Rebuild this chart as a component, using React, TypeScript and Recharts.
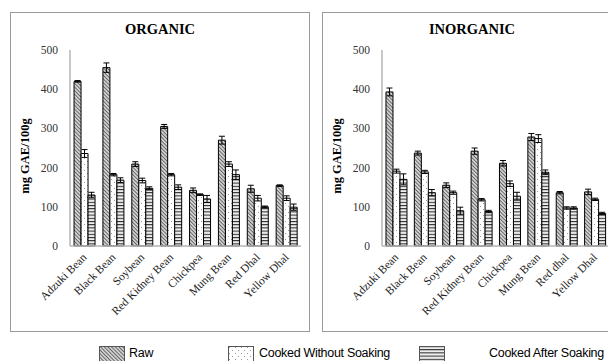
import React from "react"
import { BarChart, Bar, XAxis, YAxis, ErrorBar } from "recharts"

const organicCategories = ["Adzuki Bean", "Black Bean", "Soybean", "Red Kidney Bean", "Chickpea", "Mung Bean", "Red Dhal", "Yellow Dhal"]
const inorganicCategories = ["Adzuki Bean", "Black Bean", "Soybean", "Red Kidney Bean", "Chickpea", "Mung Bean", "Red dhal", "Yellow Dhal"]
const yTicks = [0, 100, 200, 300, 400, 500]

const organicRaw = [420, 455, 209, 305, 142, 270, 146, 154]
const organicRawErr = [2, 12, 6, 5, 6, 10, 9, 2]
const organicCooked = [236, 182, 167, 182, 131, 209, 122, 122]
const organicCookedErr = [10, 3, 6, 3, 2, 6, 7, 6]
const organicSoaked = [130, 168, 147, 150, 120, 182, 100, 99]
const organicSoakedErr = [7, 6, 4, 6, 9, 12, 2, 8]

const inorganicRaw = [393, 237, 155, 242, 211, 278, 136, 138]
const inorganicRawErr = [10, 5, 6, 8, 7, 9, 3, 7]
const inorganicCooked = [191, 189, 136, 118, 159, 274, 97, 119]
const inorganicCookedErr = [5, 4, 4, 3, 7, 10, 3, 3]
const inorganicSoaked = [170, 136, 90, 88, 127, 188, 97, 83]
const inorganicSoakedErr = [14, 8, 9, 3, 10, 6, 3, 3]

const seriesNames = ["Raw", "Cooked Without Soaking", "Cooked After Soaking"]

const serif = "'Liberation Serif', 'Times New Roman', serif"

function buildRows(cats: string[], raw: number[], rawErr: number[], cooked: number[], cookedErr: number[], soaked: number[], soakedErr: number[]) {
  return cats.map((name, i) => ({
    name,
    raw: raw[i],
    rawErr: rawErr[i],
    cooked: cooked[i],
    cookedErr: cookedErr[i],
    soaked: soaked[i],
    soakedErr: soakedErr[i]
  }))
}

const organicRows = buildRows(organicCategories, organicRaw, organicRawErr, organicCooked, organicCookedErr, organicSoaked, organicSoakedErr)
const inorganicRows = buildRows(inorganicCategories, inorganicRaw, inorganicRawErr, inorganicCooked, inorganicCookedErr, inorganicSoaked, inorganicSoakedErr)

function Patterns() {
  return (
    <svg width={0} height={0} style={{ position: "absolute" }}>
      <defs>
        <pattern id="pRaw" width={2.6} height={2.6} patternUnits="userSpaceOnUse" patternTransform="rotate(-45)">
          <rect width={2.6} height={2.6} fill="#d0d0d0" />
          <line x1={0} y1={0} x2={0} y2={2.6} stroke="#3a3a3a" strokeWidth={1.3} />
        </pattern>
        <pattern id="pCooked" width={6} height={6} patternUnits="userSpaceOnUse">
          <rect width={6} height={6} fill="#fff" />
          <rect x={1} y={1} width={1} height={1} fill="#999" />
          <rect x={4} y={4} width={1} height={1} fill="#999" />
        </pattern>
        <pattern id="pSoaked" width={4} height={3.2} patternUnits="userSpaceOnUse">
          <rect width={4} height={3.2} fill="#eee" />
          <line x1={0} y1={0.5} x2={4} y2={0.5} stroke="#222" strokeWidth={1} />
        </pattern>
      </defs>
    </svg>
  )
}

function CategoryTick(props: any) {
  const { x, y, payload } = props
  return (
    <text
      x={x + 3}
      y={y + 8}
      transform={`rotate(-45, ${x + 3}, ${y + 8})`}
      textAnchor="end"
      fontFamily={serif}
      fontSize={11.5}
      fill="#222"
    >
      {payload.value}
    </text>
  )
}

function ValueTick(props: any) {
  const { x, y, payload } = props
  return (
    <text x={x} y={y + 4} textAnchor="end" fontFamily={serif} fontSize={11.5} fill="#333">
      {payload.value}
    </text>
  )
}

function Panel({ left, title, rows, rightMargin }: { left: number; title: string; rows: any[]; rightMargin: number }) {
  return (
    <div style={{ position: "absolute", left, top: 12, width: 300, height: 320, border: "1px solid #9a9a9a", boxSizing: "border-box" }}>
      <div style={{ position: "absolute", left: 0, top: 8, width: 298, textAlign: "center", fontFamily: serif, fontWeight: "bold", fontSize: 14.5, color: "#000" }}>
        {title}
      </div>
      <div style={{ position: "absolute", left: 14, top: 143, transform: "translate(-50%, -50%) rotate(-90deg)", fontFamily: serif, fontWeight: "bold", fontSize: 12.5, whiteSpace: "nowrap", color: "#000" }}>
        mg GAE/100g
      </div>
      <BarChart width={298} height={318} data={rows} margin={{ top: 37, right: rightMargin, bottom: 0, left: 0 }} barCategoryGap="14%" barGap={0}>
        <XAxis
          dataKey="name"
          height={85}
          interval={0}
          tickLine={false}
          tickSize={0}
          tickMargin={4}
          stroke="#b5b5b5"
          strokeWidth={1.5}
          tick={<CategoryTick />}
        />
        <YAxis
          width={59}
          domain={[0, 500]}
          ticks={yTicks}
          tickLine={false}
          tickSize={0}
          tickMargin={12}
          stroke="#b5b5b5"
          strokeWidth={1.5}
          tick={<ValueTick />}
        />
        <Bar dataKey="raw" name={seriesNames[0]} fill="url(#pRaw)" stroke="#000" strokeWidth={1} isAnimationActive={false}>
          <ErrorBar dataKey="rawErr" width={3} stroke="#000" strokeWidth={1} direction="y" />
        </Bar>
        <Bar dataKey="cooked" name={seriesNames[1]} fill="url(#pCooked)" stroke="#000" strokeWidth={1} isAnimationActive={false}>
          <ErrorBar dataKey="cookedErr" width={3} stroke="#000" strokeWidth={1} direction="y" />
        </Bar>
        <Bar dataKey="soaked" name={seriesNames[2]} fill="url(#pSoaked)" stroke="#000" strokeWidth={1} isAnimationActive={false}>
          <ErrorBar dataKey="soakedErr" width={3} stroke="#000" strokeWidth={1} direction="y" />
        </Bar>
      </BarChart>
    </div>
  )
}

const legendItems = [
  { name: seriesNames[0], fill: "url(#pRaw)", swatchX: 99, textX: 129 },
  { name: seriesNames[1], fill: "url(#pCooked)", swatchX: 228, textX: 259 },
  { name: seriesNames[2], fill: "url(#pSoaked)", swatchX: 419, textX: 489 }
]

export default function App() {
  return (
    <div style={{ position: "absolute", left: 0, top: 0, width: 608, height: 361, overflow: "hidden", background: "#fff" }}>
      <Patterns />
      <Panel left={10} title="ORGANIC" rows={organicRows} rightMargin={8} />
      <Panel left={322} title="INORGANIC" rows={inorganicRows} rightMargin={12} />
      {legendItems.map((item) => (
        <React.Fragment key={item.name}>
          <svg style={{ position: "absolute", left: item.swatchX, top: 346 }} width={26} height={16}>
            <rect x={0.5} y={0.5} width={25} height={15} fill={item.fill} stroke="#555" strokeWidth={1} />
          </svg>
          <div style={{ position: "absolute", left: item.textX, top: 346, fontFamily: "'Liberation Sans', Arial, sans-serif", fontSize: 12.5, color: "#000", whiteSpace: "nowrap", letterSpacing: -0.3 }}>
            {item.name}
          </div>
        </React.Fragment>
      ))}
    </div>
  )
}
